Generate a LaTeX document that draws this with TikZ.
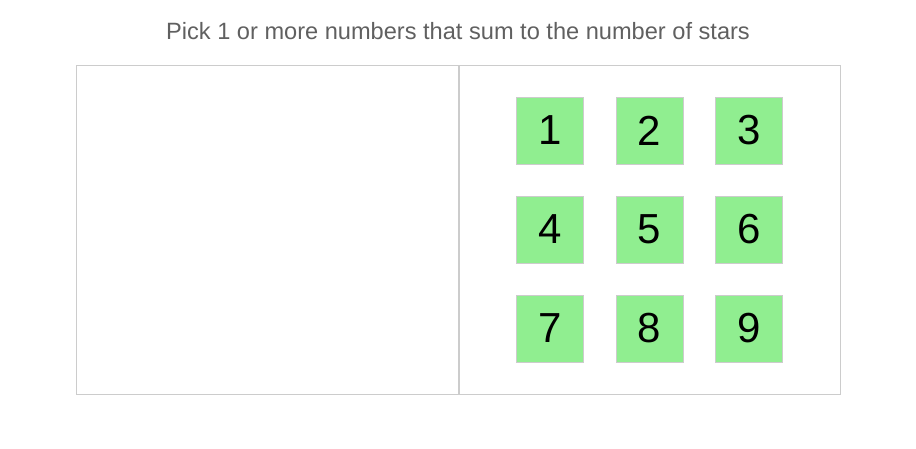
\documentclass[tikz,border=0pt]{standalone}
\usepackage{fontspec}
\setmainfont{Liberation Sans}
\definecolor{panelgray}{HTML}{CCCCCC}
\definecolor{tilegreen}{HTML}{90EE90}
\definecolor{titlegray}{HTML}{606060}

\begin{document}
\begin{tikzpicture}[x=1pt,y=-1pt,
    tile/.style={draw=panelgray, fill=tilegreen, minimum size=67pt, inner sep=0pt,
        font=\fontsize{42}{42}\selectfont}]

    \useasboundingbox (0,0) rectangle (916,449);
    \node[titlegray, font=\fontsize{23.6}{26}\selectfont] (title) at (458,31)
        {Pick 1 or more numbers that sum to the number of stars};
    % panels
    \draw[panelgray, line width=1pt] (76,66) rectangle (840,394);
    \draw[panelgray, line width=2pt] (459,66) -- (459,394);
    % number tiles
    \foreach \n in {1,...,9} {
        \pgfmathtruncatemacro{\col}{mod(\n-1,3)}
        \pgfmathtruncatemacro{\row}{div(\n-1,3)}
        \node[tile] (tile\n) at (550+\col*99.5,130.5+\row*99) {\n};
    }
\end{tikzpicture}
\end{document}
